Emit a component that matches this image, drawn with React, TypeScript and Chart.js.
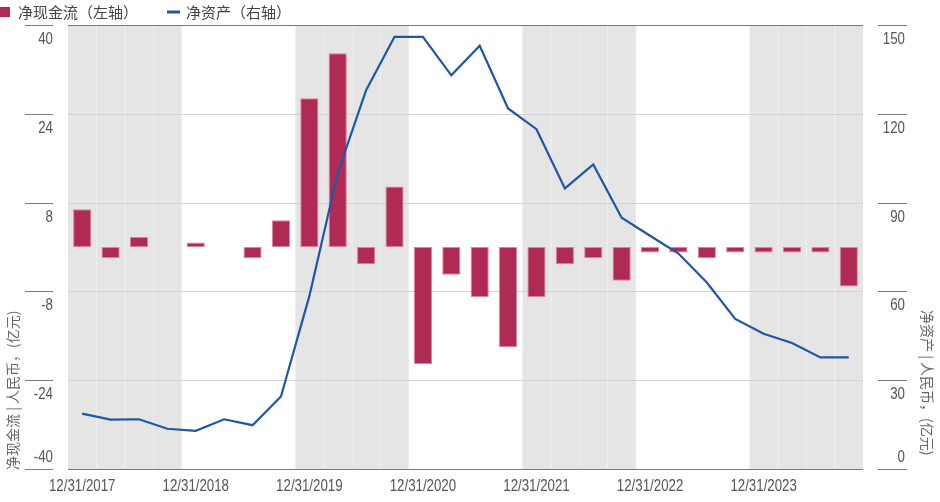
import React, { useEffect, useRef } from "react";
import { Chart, registerables } from "chart.js";

Chart.register(...registerables);

const quarterLabels = [
  "12/31/2017", "3/31/2018", "6/30/2018", "9/30/2018",
  "12/31/2018", "3/31/2019", "6/30/2019", "9/30/2019",
  "12/31/2019", "3/31/2020", "6/30/2020", "9/30/2020",
  "12/31/2020", "3/31/2021", "6/30/2021", "9/30/2021",
  "12/31/2021", "3/31/2022", "6/30/2022", "9/30/2022",
  "12/31/2022", "3/31/2023", "6/30/2023", "9/30/2023",
  "12/31/2023", "3/31/2024", "6/30/2024", "9/30/2024",
];

const netFlow = [
  6.8, -2, 1.8, 0, 0.8, 0, -2, 4.8,
  26.8, 34.9, -3.1, 10.9, -21.1, -5, -9, -18,
  -9, -3.1, -2, -6.1, -1, -1, -2, -1,
  -1, -1, -1, -7.1,
];

const netAssets = [
  18.7, 16.7, 16.8, 13.6, 12.9, 16.8, 14.8, 24.5,
  58.4, 100, 128, 146, 146, 133, 143, 121.8,
  114.8, 94.8, 102.9, 84.9, 78.8, 72.8, 63, 50.7,
  45.7, 42.6, 37.7, 37.7,
];

const leftTicks = [40, 24, 8, -8, -24, -40];
const rightTicks = [150, 120, 90, 60, 30, 0];

const legendFlow = "净现金流（左轴）";
const legendAssets = "净资产（右轴）";
const leftTitle = "净现金流 | 人民币，(亿元)";
const rightTitle = "净资产 | 人民币，(亿元)";

const BAR_COLOR = "#b02a54";
const LINE_COLOR = "#1f56a6";
const TICK_FONT = '16px "Liberation Sans Narrow", "Liberation Sans", Arial, sans-serif';
const CJK_FONT = '14px "Noto Sans CJK SC", sans-serif';
const LEGEND_FONT = '15px "Noto Sans CJK SC", sans-serif';
const SQUEEZE = 0.83;

function narrowText(ctx: CanvasRenderingContext2D, text: string, px: number, py: number, align: CanvasTextAlign) {
  ctx.save();
  ctx.translate(px, py);
  ctx.scale(SQUEEZE, 1);
  ctx.textAlign = align;
  ctx.fillText(text, 0, 0);
  ctx.restore();
}

const decorPlugin = {
  id: "decor",
  beforeDatasetsDraw(chart: any) {
    const { ctx, chartArea, scales } = chart;
    const { left, right, top, bottom } = chartArea;
    const x = scales.x;
    const y = scales.y;
    const n = quarterLabels.length;
    const step = (right - left) / n;
    ctx.save();
    ctx.fillStyle = "#e5e5e5";
    for (let i = 0; i < n; i++) {
      if (Math.floor(i / 4) % 2 === 0) {
        const cx = x.getPixelForValue(i);
        ctx.fillRect(cx - step / 2, top, step, bottom - top);
      }
    }
    ctx.strokeStyle = "rgba(255,255,255,0.25)";
    ctx.lineWidth = 1;
    for (let i = 1; i < n; i++) {
      const bx = Math.round(x.getPixelForValue(i) - step / 2) + 0.5;
      ctx.beginPath();
      ctx.moveTo(bx, top);
      ctx.lineTo(bx, bottom);
      ctx.stroke();
    }
    ctx.strokeStyle = "#d2d2d2";
    ctx.lineWidth = 1;
    leftTicks.forEach((v) => {
      if (v === 40 || v === -40) return;
      const yy = Math.round(y.getPixelForValue(v)) + 0.5;
      ctx.beginPath();
      ctx.moveTo(left, yy);
      ctx.lineTo(right, yy);
      ctx.stroke();
    });
    ctx.restore();
  },
  afterDraw(chart: any) {
    const { ctx, chartArea, scales } = chart;
    const { left, right } = chartArea;
    const x = scales.x;
    const y = scales.y;
    const y1 = scales.y1;
    ctx.save();
    ctx.strokeStyle = "#7a7a7a";
    ctx.lineWidth = 1;
    [40, -40].forEach((v) => {
      const yy = Math.round(y.getPixelForValue(v)) + 0.5;
      ctx.beginPath();
      ctx.moveTo(left, yy);
      ctx.lineTo(right, yy);
      ctx.stroke();
    });
    ctx.font = TICK_FONT;
    ctx.fillStyle = "#555555";
    ctx.textBaseline = "middle";
    leftTicks.forEach((v) => {
      const yy = Math.round(y.getPixelForValue(v)) + 0.5;
      ctx.beginPath();
      ctx.moveTo(25, yy);
      ctx.lineTo(53, yy);
      ctx.stroke();
      const ly = v === -40 ? yy - 12 : yy + 14;
      narrowText(ctx, String(v), 53, ly, "right");
    });
    rightTicks.forEach((v) => {
      const yy = Math.round(y1.getPixelForValue(v)) + 0.5;
      ctx.beginPath();
      ctx.moveTo(878, yy);
      ctx.lineTo(907, yy);
      ctx.stroke();
      const ly = v === 0 ? yy - 12 : yy + 14;
      narrowText(ctx, String(v), 905, ly, "right");
    });
    for (let i = 0; i < quarterLabels.length; i += 4) {
      narrowText(ctx, quarterLabels[i], x.getPixelForValue(i), 487, "center");
    }
    ctx.font = CJK_FONT;
    ctx.fillStyle = "#666666";
    ctx.textAlign = "left";
    ctx.save();
    ctx.translate(13, 470);
    ctx.rotate(-Math.PI / 2);
    ctx.fillText(leftTitle, 0, 0);
    ctx.restore();
    ctx.save();
    ctx.translate(927, 310);
    ctx.rotate(Math.PI / 2);
    ctx.fillText(rightTitle, 0, 0);
    ctx.restore();
    ctx.font = LEGEND_FONT;
    ctx.fillStyle = BAR_COLOR;
    ctx.fillRect(0, 7, 10, 10);
    ctx.fillStyle = "#444444";
    ctx.textAlign = "left";
    ctx.fillText(legendFlow, 18, 12);
    ctx.strokeStyle = LINE_COLOR;
    ctx.lineWidth = 3;
    ctx.beginPath();
    ctx.moveTo(167, 12);
    ctx.lineTo(180, 12);
    ctx.stroke();
    ctx.fillText(legendAssets, 186, 12);
    ctx.restore();
  },
};

export default function App() {
  const canvasRef = useRef<HTMLCanvasElement | null>(null);
  useEffect(() => {
    document.body.style.margin = "0";
    const canvas = canvasRef.current;
    if (!canvas) return;
    const chart = new Chart(canvas, {
      type: "bar",
      data: {
        labels: quarterLabels,
        datasets: [
          {
            type: "line",
            label: legendAssets,
            data: netAssets,
            yAxisID: "y1",
            borderColor: LINE_COLOR,
            borderWidth: 2.2,
            pointRadius: 0,
            tension: 0,
            order: 0,
          } as any,
          {
            type: "bar",
            label: legendFlow,
            data: netFlow,
            yAxisID: "y",
            backgroundColor: BAR_COLOR,
            borderColor: "rgba(214,120,150,0.9)",
            borderWidth: 1,
            borderSkipped: false,
            categoryPercentage: 1,
            barPercentage: 0.64,
            order: 1,
          } as any,
        ],
      },
      options: {
        responsive: false,
        animation: false,
        devicePixelRatio: 1,
        layout: { padding: { left: 68, right: 77, top: 25, bottom: 33 } },
        plugins: { legend: { display: false }, tooltip: { enabled: false } },
        scales: {
          x: { type: "category", offset: true, display: false },
          y: { min: -40, max: 40, display: false },
          y1: { min: 0, max: 150, display: false, position: "right" },
        },
      },
      plugins: [decorPlugin],
    });
    return () => chart.destroy();
  }, []);
  return (
    <div style={{ position: "absolute", left: 0, top: 0, width: 940, height: 502 }}>
      <canvas ref={canvasRef} width={940} height={502} />
    </div>
  );
}
